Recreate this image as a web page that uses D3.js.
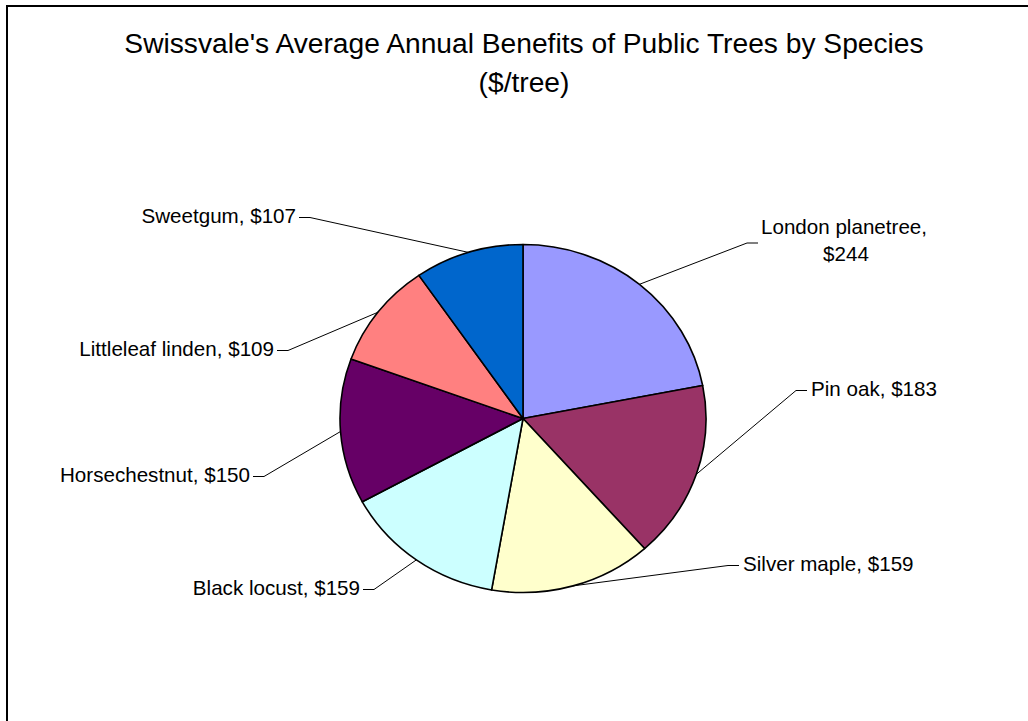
<!DOCTYPE html>
<html>
<head>
<meta charset="utf-8">
<script src="https://cdn.jsdelivr.net/npm/d3@7"></script>
<style>
  html, body { margin: 0; padding: 0; background: #fff; }
  svg { display: block; font-family: "Liberation Sans", Arial, sans-serif; }
</style>
</head>
<body>
<script>
// chart data
const species = ["London planetree", "Pin oak", "Silver maple", "Black locust", "Horsechestnut", "Littleleaf linden", "Sweetgum"];
const benefits = [244, 183, 159, 159, 150, 109, 107];
const colors = ["#9999FF", "#993366", "#FFFFCC", "#CCFFFF", "#660066", "#FF8080", "#0066CC"];

// hand placed label spots (text x, baseline y, anchor), same order as species
const labelSpots = [
    { x: 844, y: 234, anchor: "middle", lead: [758, 243] },
    { x: 811, y: 396, anchor: "start" },
    { x: 743, y: 571, anchor: "start" },
    { x: 360, y: 595, anchor: "end" },
    { x: 250, y: 482, anchor: "end" },
    { x: 274, y: 356, anchor: "end" },
    { x: 296, y: 223, anchor: "end" }
];

const width = 1028, height = 721;
const cx = 523, cy = 418.5, rx = 183, ry = 174;

const svg = d3.select("body")
    .append("svg")
    .attr("width", width)
    .attr("height", height);

// chart frame (right & bottom edges fall outside the picture)
svg.append("rect")
   .attr("x", 7)
   .attr("y", 6)
   .attr("width", 1100)
   .attr("height", 800)
   .attr("fill", "none")
   .attr("stroke", "#000")
   .attr("stroke-width", 2);

const title = svg.append("text")
   .attr("x", 524)
   .attr("y", 53)
   .attr("text-anchor", "middle")
   .style("font-size", "28.2px")
   .attr("fill", "#000");
title.append("tspan").attr("x", 524).text("Swissvale's Average Annual Benefits of Public Trees by Species");
title.append("tspan").attr("x", 524).attr("dy", 39).text("($/tree)");

const pie = d3.pie().sort(null).value(d => d);
const arcs = pie(benefits);
const arc = d3.arc().innerRadius(0).outerRadius(ry);

const pieG = svg.append("g")
   .attr("transform", `translate(${cx},${cy}) scale(${rx / ry},1)`);

pieG.selectAll("path")
   .data(arcs)
   .enter()
   .append("path")
   .attr("d", arc)
   .attr("fill", (d, i) => colors[i])
   .attr("stroke", "#000")
   .attr("stroke-width", 1.6)
   .attr("vector-effect", "non-scaling-stroke")
   .attr("stroke-linejoin", "round");

// labels and leader lines
const edgePoint = d => {
    const a = (d.startAngle + d.endAngle) / 2;
    return [cx + Math.sin(a) * rx, cy - Math.cos(a) * ry];
};

arcs.forEach((d, i) => {
    const s = labelSpots[i];
    const end = edgePoint(d);
    let start;
    if (s.lead) start = s.lead;
    else if (s.anchor === "end") start = [s.x + 3, s.y - 5.5];
    else start = [s.x - 4, s.y - 5.5];
    const dir = end[0] > start[0] ? 1 : -1;
    const elbow = [start[0] + dir * 11, start[1]];

    svg.append("path")
       .attr("d", d3.line()([start, elbow, end]))
       .attr("fill", "none")
       .attr("stroke", "#000")
       .attr("stroke-width", 1);

    const t = svg.append("text")
       .attr("x", s.x)
       .attr("y", s.y)
       .attr("text-anchor", s.anchor)
       .style("font-size", "20.6px")
       .attr("fill", "#000");
    if (s.lead) {
        t.append("tspan").attr("x", s.x).text(`${species[i]},`);
        t.append("tspan").attr("x", s.x + 2).attr("dy", 27).text(`$${benefits[i]}`);
    } else {
        t.text(`${species[i]}, $${benefits[i]}`);
    }
});
</script>
</body>
</html>
